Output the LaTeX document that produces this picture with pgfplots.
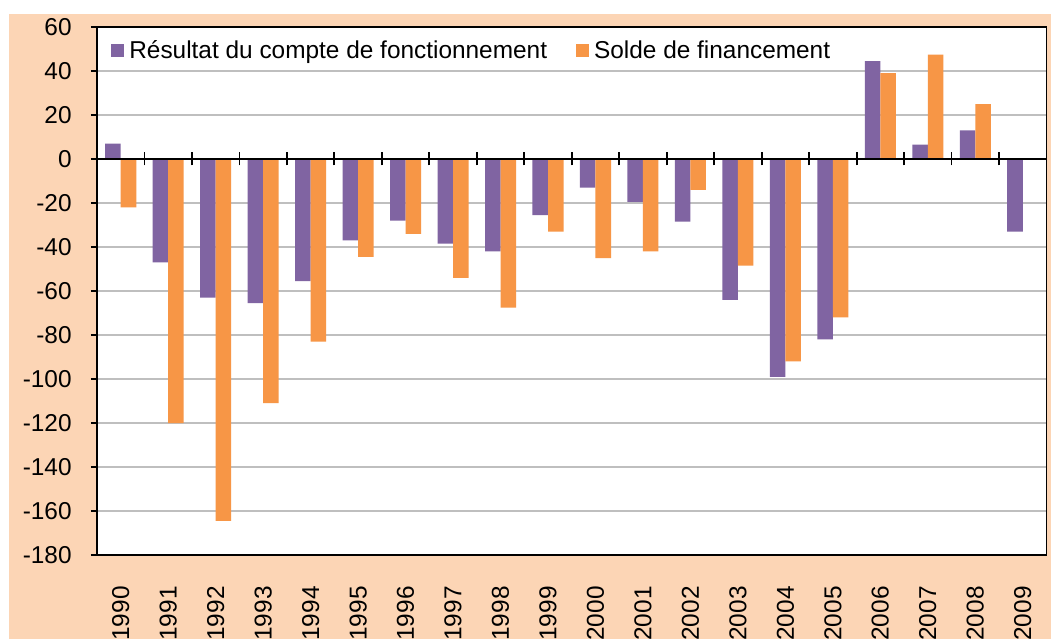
\documentclass[border=0pt]{standalone}
\usepackage{fontspec}
\setmainfont{Liberation Sans}
\usepackage{pgfplots}
\pgfplotsset{compat=1.18}
\definecolor{peach}{HTML}{FCD5B5}
\definecolor{mypurple}{HTML}{8064A2}
\definecolor{myorange}{HTML}{F79646}
\begin{document}
\begin{tikzpicture}
\fill[white] (0,0) rectangle (525.5pt,319.5pt);
\fill[peach] (4.5pt,0) rectangle (525.5pt,312.5pt);
\path[use as bounding box] (0,0) rectangle (525.5pt,319.5pt);
\begin{axis}[
  at={(48.5pt,42pt)}, anchor=south west,
  scale only axis, width=474.75pt, height=264pt,
  xmin=-0.5, xmax=19.5, ymin=-180, ymax=60,
  ytick={-180,-160,...,60},
  ymajorgrids, grid style={draw=black!25, line width=0.75pt},
  axis background/.style={fill=white},
  axis line style={black, line width=0.9pt},
  tick style={black, line width=0.9pt},
  ytick pos=left, tick align=outside, major tick length=3pt,
  xtick={0,...,19},
  xticklabels={1990,1991,1992,1993,1994,1995,1996,1997,1998,1999,2000,2001,2002,2003,2004,2005,2006,2007,2008,2009},
  x tick style={draw=none},
  xticklabel style={rotate=90, anchor=east, inner sep=0pt},
  xticklabel shift=12.5pt,
  yticklabel style={anchor=east, inner sep=0pt},
  yticklabel shift=9.5pt,
  ticklabel style={font=\fontsize{12.2}{14}\selectfont},
  /pgf/number format/assume math mode=true,
  ybar=0pt, bar width=0.327,
  legend style={draw=none, fill=none, at={(0.0147,0.9545)}, anchor=west,
    legend columns=2, inner xsep=0pt, font=\fontsize{12.2}{14}\selectfont,
    nodes={inner xsep=2.5pt},
    /tikz/every even column/.append style={column sep=12pt}},
]
\addplot[fill=mypurple, draw=none,
  legend image code/.code={\fill[mypurple] (0pt,-3pt) rectangle (6.5pt,3.5pt);}]
  coordinates {(0,7) (1,-47) (2,-63) (3,-65.5) (4,-55.5) (5,-37) (6,-28) (7,-38.5) (8,-42) (9,-25.5)
  (10,-13) (11,-19.5) (12,-28.5) (13,-64) (14,-99) (15,-82) (16,44.5) (17,6.5) (18,13) (19,-33)};
\addlegendentry{Résultat du compte de fonctionnement}
\addplot[fill=myorange, draw=none,
  legend image code/.code={\fill[myorange] (0pt,-3pt) rectangle (6.5pt,3.5pt);}]
  coordinates {(0,-22) (1,-120) (2,-164.5) (3,-111) (4,-83) (5,-44.5) (6,-34) (7,-54) (8,-67.5) (9,-33)
  (10,-45) (11,-42) (12,-14) (13,-48.5) (14,-92) (15,-72) (16,39) (17,47.5) (18,25)};
\addlegendentry{Solde de financement}
\end{axis}
\begin{axis}[
  at={(48.5pt,42pt)}, anchor=south west,
  scale only axis, width=474.75pt, height=264pt,
  xmin=-0.5, xmax=19.5, ymin=-180, ymax=60,
  axis x line=middle, axis y line=none,
  xtick={0.5,1.5,...,18.5}, xticklabels={}, ytick=\empty,
  tick align=center, major tick length=6.5pt,
  axis line style={-, black, line width=0.9pt},
  tick style={black, line width=0.9pt},
]
\end{axis}
\end{tikzpicture}
\end{document}
